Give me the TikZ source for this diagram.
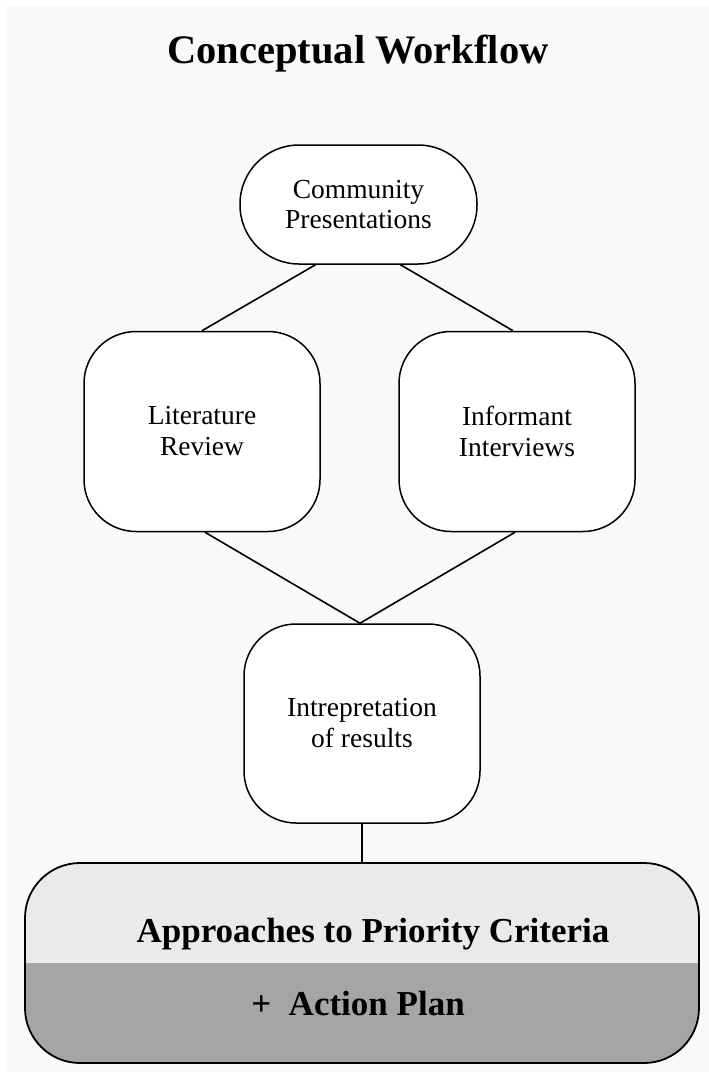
\documentclass[tikz,border=0pt]{standalone}
\usepackage{fontspec}
\setmainfont{Liberation Serif}
\usepackage{tikz}
\usetikzlibrary{positioning, calc}
\definecolor{panelBg}{RGB}{248,249,251}
\definecolor{criteriaGray}{RGB}{233,234,236}
\definecolor{planGray}{RGB}{165,165,164}

\begin{document}
\begin{tikzpicture}[x=1pt, y=-1pt,
    stepbox/.style={draw, line width=1.5pt, fill=white, rounded corners=52pt,
      minimum width=236pt, minimum height=200pt, inner sep=0pt, align=center,
      font=\fontsize{27.5}{31}\selectfont},
    headtext/.style={font=\bfseries\fontsize{35}{40}\selectfont, anchor=base},
    link/.style={line width=1.6pt}]
  \useasboundingbox (0,0) rectangle (709,1072);
  \fill[panelBg] (6,6) rectangle (709,1072);
  \node[font=\bfseries\fontsize{40.5}{44}\selectfont, anchor=base] (title) at (358,63) {Conceptual Workflow};
  \node[stepbox, minimum width=237pt, minimum height=119pt, rounded corners=59pt, font=\fontsize{27.5}{30}\selectfont] (comm) at (358.5,204.5) {Community\\Presentations};
  \node[stepbox] (lit) at (202,431.5) {Literature\\Review};
  \node[stepbox] (inf) at (517,431.5) {Informant\\Interviews};
  \node[stepbox, minimum height=199pt] (interp) at (362,723.5) {Intrepretation\\of results};
  \node[draw, line width=1.8pt, fill=criteriaGray, rounded corners=55pt, minimum width=674pt, minimum height=200pt,
    path picture={\fill[planGray, sharp corners] (path picture bounding box.west) rectangle (path picture bounding box.south east);}] (final) at (362,963) {};
  \node[headtext] (crit) at ([xshift=11pt, yshift=21pt]final.center) {Approaches to Priority Criteria};
  \node[headtext] (plan) at ([xshift=-4pt, yshift=-52pt]final.center) {+~~Action Plan};
  \draw[link] ([xshift=-43pt]comm.south) -- (lit.north);
  \draw[link] ([xshift=42pt]comm.south) -- ([xshift=-4pt]inf.north);
  \draw[link] ([xshift=3pt]lit.south) -- ([xshift=-2pt]interp.north);
  \draw[link] ([xshift=-2pt]inf.south) -- ([xshift=-2pt]interp.north);
  \draw[link] (interp.south) -- (interp.south |- final.north);
\end{tikzpicture}
\end{document}
